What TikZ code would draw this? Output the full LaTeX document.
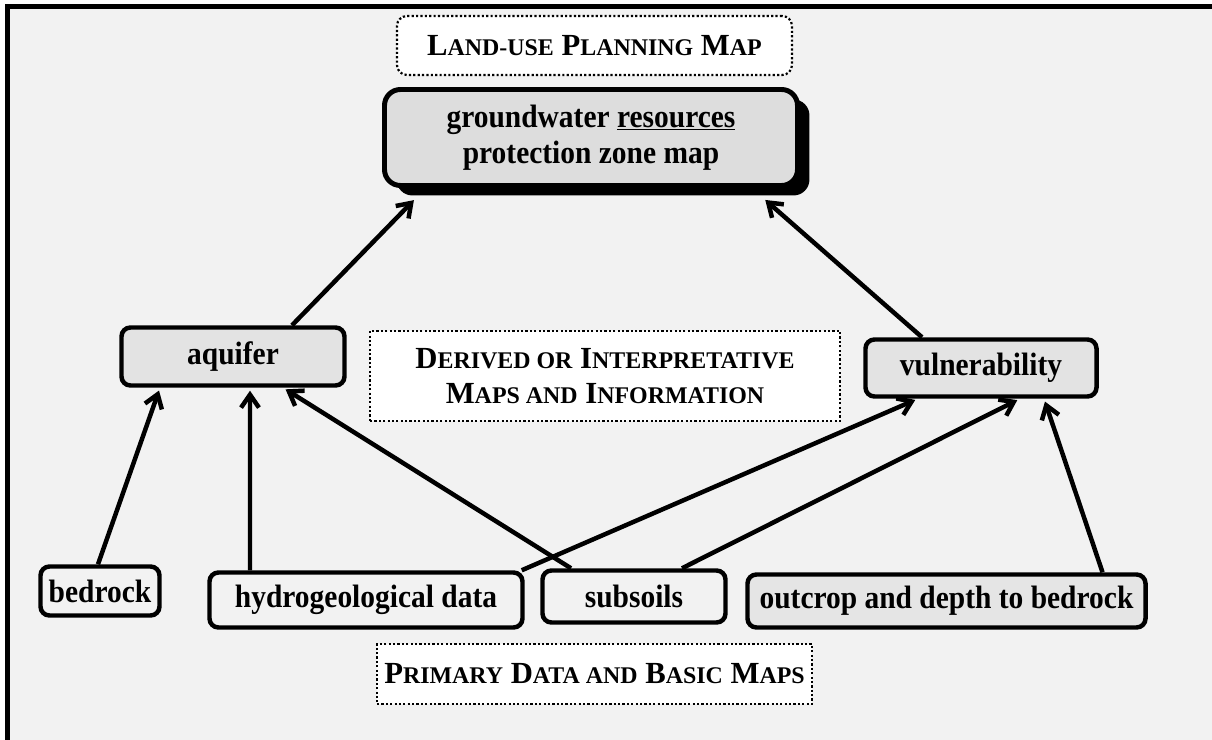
\documentclass[tikz,border=0pt]{standalone}
\usepackage{fontspec}
\setmainfont{Liberation Serif}
\newfontfamily\nfont{Liberation Serif}[FakeStretch=0.91]
\usetikzlibrary{arrows.meta,shadows}
\definecolor{bg}{HTML}{F2F2F2}
\definecolor{boxgray}{HTML}{E3E3E3}
\definecolor{maingray}{HTML}{DDDDDD}
\definecolor{outgray}{HTML}{E5E5E5}
\newcommand\smc[1]{{\fontsize{24}{35}\selectfont #1}}
\begin{document}
\begin{tikzpicture}[x=1bp,y=-1bp,
 box/.style={draw=black, line width=4.5pt, rounded corners=9pt, inner sep=0pt,
   font=\nfont\bfseries\fontsize{32.5}{36}\selectfont, text=black},
 gbox/.style={box, fill=boxgray},
 lbl/.style={draw=black, fill=white, line width=2.2pt, dash pattern=on 2.2pt off 2.2pt,
   inner sep=0pt, font=\bfseries\fontsize{30.8}{35}\selectfont, align=center},
 arr/.style={line width=4.5pt, shorten >=3pt, -{Straight Barb[length=13pt,width=18pt]}}
]
\path[use as bounding box] (0,0) rectangle (1212,740);
\fill[bg] (7.5,6.5) rectangle (1230,760);
\draw[line width=5pt] (7.5,745) -- (7.5,6.5) -- (1230,6.5);

\node[lbl, rounded corners=10pt, minimum width=395bp, minimum height=59bp] (lu) at (594.5,45.5)
  {L\smc{AND-USE} P\smc{LANNING} M\smc{AP}};
\node[box, fill=maingray, line width=5pt, rounded corners=16pt, minimum width=413bp,
  minimum height=96bp, align=center,
  drop shadow={shadow xshift=12pt, shadow yshift=-10pt, fill=black, opacity=1}] (gw) at (591,137.5)
  {groundwater \underline{resources}\\protection zone map};
\node[gbox, minimum width=223bp, minimum height=58bp] (aq) at (233,356.5) {\raisebox{-2pt}{aquifer}};
\node[lbl, minimum width=470bp, minimum height=90bp] (der) at (605,376)
  {D\smc{ERIVED OR} I\smc{NTERPRETATIVE}\\M\smc{APS AND} I\smc{NFORMATION}};
\node[gbox, minimum width=231bp, minimum height=57bp] (vu) at (981,368) {vulnerability};
\node[box, minimum width=119bp, minimum height=49bp] (bed) at (100,591) {bedrock};
\node[box, minimum width=313bp, minimum height=55bp] (hyd) at (366,600) {hydrogeological data};
\node[box, minimum width=183bp, minimum height=52bp] (sub) at (634,596.5) {subsoils};
\node[box, fill=outgray, minimum width=398bp, minimum height=53bp] (out) at (946.5,601)
  {outcrop and depth to bedrock};
\node[lbl, minimum width=435bp, minimum height=60bp] (pri) at (594.5,674)
  {P\smc{RIMARY} D\smc{ATA AND} B\smc{ASIC} M\smc{APS}};

\draw[arr] ([xshift=59bp]aq.north) -- ([xshift=-175bp,yshift=-10bp]gw.south);
\draw[arr] ([xshift=-59bp]vu.north) -- ([xshift=172bp,yshift=-10bp]gw.south);
\draw[arr] ([xshift=-2bp]bed.north) -- ([xshift=-73bp]aq.south);
\draw[arr] ([xshift=-116bp]hyd.north) -- ([xshift=17bp]aq.south);
\draw[arr] ([xshift=-63bp]sub.north) -- ([xshift=50bp]aq.south);
\draw[arr] ([xshift=-3bp]hyd.north east) -- ([xshift=-63bp]vu.south);
\draw[arr] ([xshift=48bp]sub.north) -- ([xshift=39bp]vu.south);
\draw[arr] ([xshift=156bp]out.north) -- ([xshift=63bp]vu.south);
\end{tikzpicture}
\end{document}
